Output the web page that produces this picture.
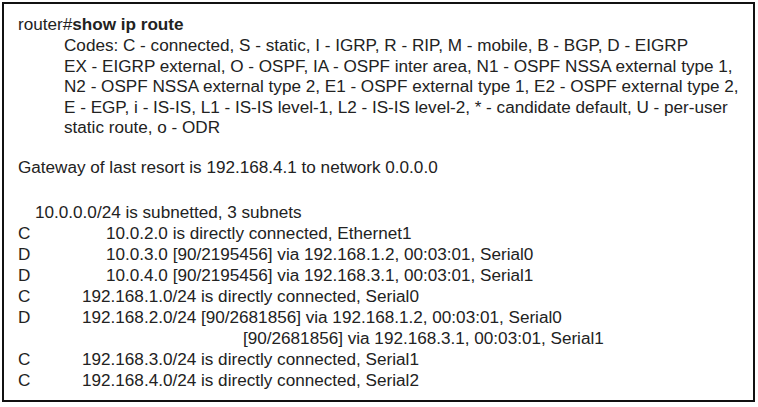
<!DOCTYPE html>
<html lang="en">
<head>
    <meta charset="UTF-8">
    <title>show ip route</title>
    <script src="https://cdn.jsdelivr.net/npm/chart.js"></script>
    <style>
        html, body {
            margin: 0;
            width: 758px;
            height: 407px;
            background: #fff;
            overflow: hidden;
        }
        #box {
            position: absolute;
            left: 2px;
            top: 2px;
            width: 749px;
            height: 396px;
            border: 2px solid #111;
            font-family: "Liberation Sans", Arial, sans-serif;
            font-size: 16px;
            line-height: 18px;
            color: #222;
        }
        .line {
            position: absolute;
            white-space: pre;
            transform: scaleX(1.07);
            transform-origin: 0 0;
        }
        b { font-weight: bold; }
    </style>
</head>
<body>
    <div id="box"></div>

    <script>
        // prompt + legend of route codes
        const promptText = 'router#';
        const commandText = 'show ip route';
        const codeLines = [
            'Codes: C - connected, S - static, I - IGRP, R - RIP, M - mobile, B - BGP, D - EIGRP',
            'EX - EIGRP external, O - OSPF, IA - OSPF inter area, N1 - OSPF NSSA external type 1,',
            'N2 - OSPF NSSA external type 2, E1 - OSPF external type 1, E2 - OSPF external type 2,',
            'E - EGP, i - IS-IS, L1 - IS-IS level-1, L2 - IS-IS level-2, * - candidate default, U - per-user',
            'static route, o - ODR'
        ];
        const gatewayText = 'Gateway of last resort is 192.168.4.1 to network 0.0.0.0';
        const subnetHeader = '10.0.0.0/24 is subnetted, 3 subnets';

        // route table rows: code letter, indent level, text
        const routeCodes = ['C', 'D', 'D', 'C', 'D', '', 'C', 'C'];
        const routeLevels = [2, 2, 2, 1, 1, 3, 1, 1];
        const routeTexts = [
            '10.0.2.0 is directly connected, Ethernet1',
            '10.0.3.0 [90/2195456] via 192.168.1.2, 00:03:01, Serial0',
            '10.0.4.0 [90/2195456] via 192.168.3.1, 00:03:01, Serial1',
            '192.168.1.0/24 is directly connected, Serial0',
            '192.168.2.0/24 [90/2681856] via 192.168.1.2, 00:03:01, Serial0',
            '[90/2681856] via 192.168.3.1, 00:03:01, Serial1',
            '192.168.3.0/24 is directly connected, Serial1',
            '192.168.4.0/24 is directly connected, Serial2'
        ];

        const box = document.getElementById('box');
        const indentX = { 1: 78, 2: 102, 3: 239 };

        function addLine(html, x, y) {
            const d = document.createElement('div');
            d.className = 'line';
            d.style.left = x + 'px';
            d.style.top = y + 'px';
            d.innerHTML = html;
            box.appendChild(d);
            return d;
        }

        function esc(s) {
            return s.replace(/&/g, '&amp;').replace(/</g, '&lt;');
        }

        addLine(esc(promptText) + '<b>' + esc(commandText) + '</b>', 14, 12);
        codeLines.forEach((t, i) => addLine(esc(t), 60, 33 + i * 20.5));
        addLine(esc(gatewayText), 14, 155);
        addLine(esc(subnetHeader), 31, 200);

        routeTexts.forEach((t, i) => {
            const y = 200 + (i + 1) * 21;
            if (routeCodes[i]) addLine(routeCodes[i], 14, y);
            addLine(esc(t), indentX[routeLevels[i]], y);
        });
    </script>
</body>
</html>
